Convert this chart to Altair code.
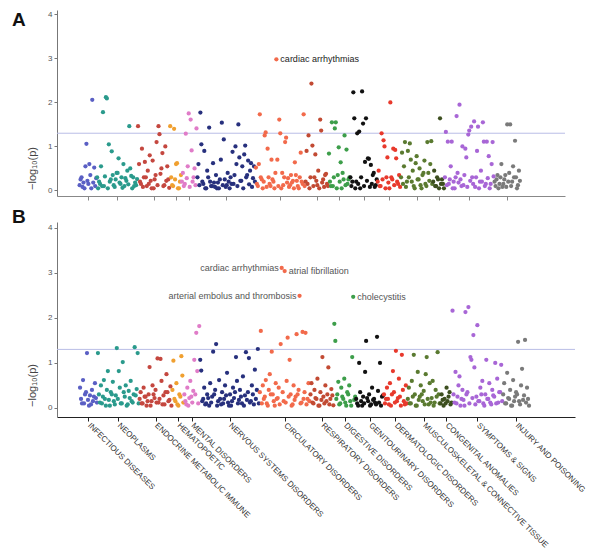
import json
import altair as alt
import pandas as pd

CATEGORIES = [
    "INFECTIOUS DISEASES", "NEOPLASMS", "ENDOCRINE METABOLIC IMMUNE", "HEMATOPOETIC",
    "MENTAL DISORDERS", "NERVOUS SYSTEMS DISORDERS", "CIRCULATORY DISORDERS",
    "RESPIRATORY DISORDERS", "DIGESTIVE DISORDERS", "GENITOURINARY DISORDERS",
    "DERMATOLOGIC DISORDERS", "MUSCULOSKELETAL & CONNECTIVE TISSUE",
    "CONGENITAL ANOMALIES", "SYMPTOMS & SIGNS", "INJURY AND POISONING",
]

# ---- Panel A: -log10(p) per phenotype, grouped by category (phenotype order) ----
A_INF = [0.12, 0.25, 0.3, 0.08, 0.18, 0.05, 0.55, 1.06, 0.22, 0.15, 0.6, 0.35, 0.05, 2.06,
         0.18, 0.52, 0.1, 0.28]
A_NEO = [0.3, 0.05, 0.2, 0.15, 0.55, 0.1, 1.78, 0.1, 0.32, 2.12, 2.09, 0.05, 1.05, 0.2,
         0.25, 0.89, 0.35, 0.12, 0.08, 0.25, 0.4, 0.4, 0.73, 0.18, 0.15, 0.3, 0.06, 0.6,
         0.1, 0.28, 0.22, 0.45, 0.14, 1.46, 0.5, 0.33, 0.05, 0.3, 0.1, 0.18, 0.12, 0.26]
A_END = [1.46, 0.6, 0.2, 0.15, 0.95, 0.08, 0.3, 0.65, 0.3, 0.1, 0.45, 0.15, 0.8, 0.22,
         0.05, 0.68, 0.05, 0.25, 0.35, 1.1, 0.12, 1.46, 1.28, 0.38, 0.5, 0.85, 0.1, 0.12,
         1.0, 0.22, 0.55, 0.25, 0.06]
A_HEM = [1.46, 0.3, 0.12, 0.1, 1.4, 0.25, 0.6, 0.62, 0.05, 0.05, 0.2, 0.35]
A_MEN = [0.2, 0.4, 0.1, 0.15, 1.29, 0.28, 0.55, 1.75, 0.08, 1.61, 0.91, 0.2, 0.3, 0.5,
         0.12, 1.41]
A_NER = [0.3, 0.6, 0.12, 1.77, 1.05, 0.2, 0.15, 0.9, 0.05, 0.05, 0.45, 0.3, 1.43, 0.2,
         0.1, 0.1, 0.62, 0.18, 0.08, 0.35, 0.05, 0.18, 0.05, 0.25, 0.7, 1.54, 0.12, 1.16,
         0.25, 0.08, 0.12, 0.4, 0.2, 0.05, 0.3, 0.15, 0.88, 0.15, 0.35, 1.0, 0.6, 0.1,
         1.5, 0.75, 0.22, 0.22, 0.55, 0.05, 0.82, 1.02, 0.3, 0.35, 0.68, 0.14, 0.45, 0.62,
         0.08, 0.28, 0.55, 0.2]
A_CIR = [0.52, 0.15, 0.1, 0.6, 1.73, 0.3, 0.25, 0.05, 0.2, 1.25, 1.32, 0.08, 0.95, 0.3,
         0.15, 0.1, 0.7, 0.25, 0.2, 0.05, 0.4, 2.98, 0.7, 0.1, 1.61, 1.3, 0.05, 0.4, 0.12,
         0.3, 1.1, 1.2, 0.18, 0.28, 0.08, 0.12, 0.35, 0.18, 0.22, 0.05, 0.64, 0.35, 0.22,
         0.1, 0.05, 0.3, 0.86, 0.2, 0.15, 1.73, 0.1]
A_RES = [0.2, 0.9, 0.15, 1.25, 0.05, 0.3, 2.43, 1.02, 0.1, 0.3, 0.82, 0.22, 0.12, 0.45,
         0.05, 1.61, 1.36, 0.18, 0.25, 0.08, 0.35, 0.38, 0.15, 0.1]
A_DIG = [0.84, 0.2, 0.1, 1.55, 0.1, 0.3, 1.41, 1.55, 0.05, 0.35, 0.98, 0.2, 0.64, 0.05,
         0.4, 0.25, 1.25, 0.12, 0.93, 0.15, 0.25, 0.3]
A_GEN = [0.3, 0.1, 0.2, 2.23, 1.64, 0.05, 0.2, 1.3, 0.15, 1.34, 0.05, 0.3, 2.25, 1.52,
         0.1, 0.65, 1.64, 0.22, 0.73, 0.72, 0.08, 0.58, 0.15, 0.35, 0.4, 0.08, 0.12, 0.25]
A_DER = [0.2, 0.45, 0.1, 0.1, 1.3, 0.25, 1.14, 1.0, 0.05, 0.3, 0.75, 0.18, 0.05, 2.0,
         0.3, 0.25, 0.95, 0.12, 0.92, 0.73, 0.2, 0.15, 0.35, 0.08]
A_MUS = [0.3, 0.86, 0.15, 0.55, 1.1, 0.08, 0.2, 0.9, 0.3, 1.07, 0.7, 0.2, 0.45, 0.1,
         0.05, 0.62, 0.78, 0.25, 0.25, 0.5, 0.12, 0.05, 0.35, 0.4, 0.68, 0.15, 0.1, 1.1,
         0.4, 0.22, 0.6, 1.12, 0.15]
A_CON = [0.2, 0.45, 0.1, 0.1, 0.3, 0.25, 0.05, 1.64, 0.15, 0.25, 0.15, 0.05]
A_SYM = [0.3, 1.33, 0.12, 1.11, 0.15, 0.25, 0.55, 1.11, 0.05, 0.2, 0.05, 0.3, 1.69, 0.4,
         0.18, 1.95, 0.25, 0.1, 1.0, 0.12, 0.35, 0.95, 0.75, 0.08, 1.27, 1.36, 0.22, 1.45,
         0.3, 0.15, 1.57, 0.08, 0.3, 0.9, 1.45, 0.05, 0.2, 0.45, 0.2, 1.55, 1.11, 0.1,
         0.15, 1.11, 0.28, 0.78, 0.05, 0.15, 0.6, 1.1, 0.32]
A_INJ = [0.2, 0.1, 0.25, 0.35, 0.05, 0.15, 0.3, 0.6, 0.08, 0.15, 0.25, 0.35, 0.08, 1.5,
         0.2, 0.4, 1.5, 0.1, 0.2, 0.55, 0.3, 1.13, 0.3, 0.05, 0.12, 0.45, 0.22]

# ---- Panel B ----
B_INF = [0.45, 0.2, 0.1, 0.62, 0.1, 0.3, 0.35, 1.22, 0.18, 0.05, 0.28, 0.08, 0.4, 0.15,
         0.25, 0.55, 0.22, 0.12]
B_NEO = [1.22, 0.3, 0.12, 0.5, 0.1, 0.25, 0.62, 0.2, 0.05, 0.4, 0.82, 0.18, 0.05, 0.35,
         0.3, 0.58, 0.15, 0.08, 0.28, 1.33, 0.2, 0.82, 0.45, 0.1, 0.1, 1.02, 0.35, 0.25,
         0.5, 0.05, 0.08, 0.38, 0.22, 0.6, 0.15, 0.12, 0.3, 1.35, 0.28, 0.42, 1.22, 0.1]
B_END = [0.2, 0.35, 0.1, 0.1, 0.45, 0.25, 0.25, 0.05, 0.15, 0.3, 0.91, 0.05, 0.15, 0.5,
         0.3, 0.22, 0.4, 0.12, 1.1, 0.12, 0.2, 1.09, 0.6, 0.08, 0.28, 0.08, 0.35, 0.75,
         0.35, 0.15, 0.18, 0.48, 0.05]
B_HEM = [0.4, 1.05, 0.2, 0.15, 0.55, 0.08, 0.05, 0.3, 0.25, 1.15, 0.72, 0.12]
B_MEN = [0.3, 0.15, 0.08, 0.45, 0.05, 0.22, 0.6, 0.25, 0.12, 0.38, 1.07, 0.3, 1.67, 0.82,
         0.1, 1.82]
B_NER = [1.07, 0.83, 0.15, 0.2, 0.45, 0.08, 0.1, 0.3, 0.22, 0.05, 0.55, 0.12, 0.25, 1.25,
         0.3, 0.4, 1.42, 0.05, 0.15, 0.62, 0.2, 0.08, 0.35, 0.1, 0.2, 0.5, 0.28, 0.78,
         0.12, 0.05, 0.3, 0.05, 0.15, 0.45, 0.22, 0.35, 1.13, 0.6, 0.1, 0.18, 0.4, 0.25,
         0.1, 0.7, 0.05, 0.28, 1.24, 0.18, 0.35, 1.11, 0.12, 0.15, 0.5, 0.3, 0.08, 0.85,
         0.2, 0.4, 1.31, 0.1]
B_CIR = [0.35, 1.71, 0.1, 0.5, 0.2, 0.25, 0.62, 0.1, 0.05, 0.4, 0.75, 0.3, 1.25, 0.3,
         0.15, 0.05, 0.55, 0.2, 0.22, 0.45, 0.08, 1.42, 3.11, 0.35, 0.15, 3.04, 0.12, 0.6,
         1.56, 0.25, 1.07, 0.3, 0.05, 0.08, 0.5, 0.18, 0.25, 1.64, 0.3, 0.4, 2.49, 0.1,
         0.12, 1.69, 0.2, 0.35, 1.67, 0.08, 0.2, 0.55, 0.15]
B_RES = [0.3, 0.55, 0.12, 0.1, 0.4, 0.22, 0.2, 0.65, 0.05, 0.05, 0.35, 0.18, 1.13, 0.25,
         0.1, 0.5, 0.15, 0.3, 0.9, 0.08, 0.2, 0.42, 0.28, 0.06]
B_DIG = [1.87, 1.49, 0.2, 0.3, 0.58, 0.08, 0.1, 0.45, 0.25, 0.2, 0.65, 0.12, 0.05, 0.35,
         0.3, 0.5, 0.15, 0.05, 1.13, 2.47, 0.18, 0.25]
B_GEN = [0.2, 0.1, 0.05, 1.0, 0.35, 0.15, 0.05, 0.25, 0.1, 0.8, 1.49, 0.22, 0.15, 0.3,
         0.05, 0.08, 0.45, 0.18, 0.2, 0.12, 0.08, 1.58, 0.38, 0.12, 1.0, 0.05, 0.25, 0.28]
B_DER = [0.3, 0.1, 0.2, 0.45, 0.2, 0.08, 0.55, 0.05, 0.3, 0.82, 0.35, 0.12, 1.27, 0.15,
         0.22, 0.65, 0.25, 0.05, 1.18, 0.4, 0.15, 0.08, 0.5, 0.1]
B_MUS = [0.2, 0.45, 0.1, 0.1, 0.6, 0.25, 1.18, 0.3, 0.05, 0.05, 0.8, 0.18, 0.25, 0.5,
         0.3, 0.15, 0.38, 0.08, 0.75, 1.13, 0.2, 0.08, 0.55, 0.12, 0.22, 0.6, 0.05, 0.12,
         0.4, 0.25, 1.24, 0.3, 0.1]
B_CON = [0.1, 0.3, 0.18, 0.05, 0.2, 0.1, 0.45, 0.15, 0.25, 0.35, 0.08, 0.12]
B_SYM = [2.16, 0.3, 0.12, 0.8, 0.1, 0.25, 0.5, 0.7, 0.05, 0.2, 0.4, 0.18, 0.05, 2.13,
         0.3, 0.35, 2.24, 0.1, 1.13, 1.07, 0.22, 1.62, 0.9, 0.08, 0.25, 1.84, 0.15, 0.15,
         0.45, 0.3, 0.6, 0.1, 0.05, 0.3, 1.07, 0.2, 0.2, 0.55, 0.12, 0.08, 0.4, 0.28,
         0.25, 1.0, 0.1, 0.65, 0.12, 0.35, 0.35, 0.96, 0.15]
B_INJ = [0.3, 0.55, 0.1, 0.1, 0.78, 0.22, 0.2, 0.4, 0.05, 0.05, 0.62, 0.15, 0.25, 0.35,
         0.3, 1.47, 0.15, 0.08, 0.5, 0.87, 0.18, 0.28, 1.51, 0.12, 0.45, 0.2, 0.05]

PANEL_A = [A_INF, A_NEO, A_END, A_HEM, A_MEN, A_NER, A_CIR, A_RES, A_DIG, A_GEN, A_DER,
           A_MUS, A_CON, A_SYM, A_INJ]
PANEL_B = [B_INF, B_NEO, B_END, B_HEM, B_MEN, B_NER, B_CIR, B_RES, B_DIG, B_GEN, B_DER,
           B_MUS, B_CON, B_SYM, B_INJ]

# annotated phenotypes: (category, position within category, label, side)
ANNOT_A = [("CIRCULATORY DISORDERS", 21, "cardiac arrhythmias", "right")]
ANNOT_B = [
    ("CIRCULATORY DISORDERS", 22, "cardiac arrhythmias", "left"),
    ("CIRCULATORY DISORDERS", 25, "atrial fibrillation", "right"),
    ("CIRCULATORY DISORDERS", 40, "arterial embolus and thrombosis", "left"),
    ("DIGESTIVE DISORDERS", 19, "cholecystitis", "right"),
]

THRESHOLD = 1.301  # -log10(0.05)

PALETTE_A = ["#5a5fc4", "#2a9a8c", "#c4473f", "#f0a030", "#e07cc8", "#27307d", "#f26a4b",
             "#c24a33", "#3d9e4a", "#111111", "#e8392c", "#5a7a30", "#3d4f1f", "#a866d6",
             "#7a7a7a"]
PALETTE_B = ["#2c3a92", "#1a9080", "#c0161e", "#f39c12", "#dd77c8", "#1c236e", "#ee2a1b",
             "#b0302a", "#1e9a45", "#000000", "#e8281e", "#4e6b28", "#3d4f1f", "#9c4fd0",
             "#707070"]

FONT = "Liberation Sans"
XDOM = [-23.2, 498.3]


def build(lists, annots):
    rows, centers, starts = [], [], {}
    idx = 0
    for cat, vals in zip(CATEGORIES, lists):
        starts[cat] = idx
        for v in vals:
            rows.append({"idx": idx, "p": v, "cat": cat})
            idx += 1
        centers.append((starts[cat] + idx - 1) / 2)
    ann = []
    for cat, k, label, side in annots:
        vals = lists[CATEGORIES.index(cat)]
        ann.append({"idx": starts[cat] + k, "p": vals[k], "label": label, "side": side})
    return pd.DataFrame(rows), centers, pd.DataFrame(ann)


def panel(lists, annots, palette, width, height, ydom, show_labels, letter, letter_y,
          axis_color, title_y, ann_color):
    df, centers, ann = build(lists, annots)
    xs = alt.Scale(domain=XDOM, nice=False, zero=False)
    ys = alt.Scale(domain=ydom, nice=False, zero=False)
    ax_kw = dict(values=centers, grid=False, ticks=True, tickSize=4, tickColor=axis_color,
                 domainColor=axis_color, title=None)
    if show_labels:
        label_map = {f"{c:g}": cat for c, cat in zip(centers, CATEGORIES)}
        ax_kw.update(labels=True, labelExpr=json.dumps(label_map) + "[toString(datum.value)]",
                     labelAngle=45, labelAlign="left", labelBaseline="middle",
                     labelFontSize=8, labelColor="#333333", labelFont=FONT,
                     labelOverlap=False, labelLimit=400, labelPadding=3, labelFlush=False)
    else:
        ax_kw.update(labels=False)
    xaxis = alt.Axis(**ax_kw)
    yaxis = alt.Axis(values=[0, 1, 2, 3, 4], format="d", grid=False, tickSize=3,
                     tickColor="#777777", domainColor="#777777", labelFontSize=8,
                     labelColor="#555555", labelFont=FONT, title="−log₁₀(p)",
                     titleFontSize=11, titleFontWeight="normal", titleColor="#444444",
                     titleFont=FONT, titleX=-20, titleY=title_y)

    rule = alt.Chart(pd.DataFrame({"t": [THRESHOLD]})).mark_rule(
        color="#b9bde6", strokeWidth=1).encode(y=alt.Y("t:Q", scale=ys, axis=yaxis))
    pts = alt.Chart(df).mark_circle(size=18, opacity=1).encode(
        x=alt.X("idx:Q", scale=xs, axis=xaxis),
        y=alt.Y("p:Q", scale=ys, axis=yaxis),
        color=alt.Color("cat:N", scale=alt.Scale(domain=CATEGORIES, range=palette), legend=None),
    )
    layers = [rule, pts]
    for side, align, dx in (("right", "left", 4), ("left", "right", -3)):
        sub = ann[ann["side"] == side] if len(ann) else ann
        if len(sub):
            layers.append(alt.Chart(sub).mark_text(
                align=align, baseline="middle", dx=dx, fontSize=9, font=FONT,
                color=ann_color).encode(
                x=alt.X("idx:Q", scale=xs, axis=xaxis),
                y=alt.Y("p:Q", scale=ys, axis=yaxis), text="label:N"))
    layers.append(alt.Chart(pd.DataFrame({"t": [letter]})).mark_text(
        align="left", baseline="alphabetic", fontSize=19, fontWeight="bold", font=FONT,
        color="#111111").encode(text="t:N", x=alt.value(-45), y=alt.value(letter_y)))
    return alt.layer(*layers).properties(width=width, height=height)


chart_a = panel(PANEL_A, ANNOT_A, PALETTE_A, 508, 186, [-0.125, 4.1], False, "A", 16,
                "#888888", 158, "#222222")
chart_b = panel(PANEL_B, ANNOT_B, PALETTE_B, 518, 195, [-0.2, 4.13], True, "B", 1,
                "#222222", 163, "#555555")

chart = alt.vconcat(chart_a, chart_b, spacing=26, bounds="flush").properties(
    padding={"left": 4, "top": 2, "right": 5, "bottom": 5}
).configure_view(stroke=None)

chart.save("out.html", embed_options={"renderer": "svg", "actions": False})
